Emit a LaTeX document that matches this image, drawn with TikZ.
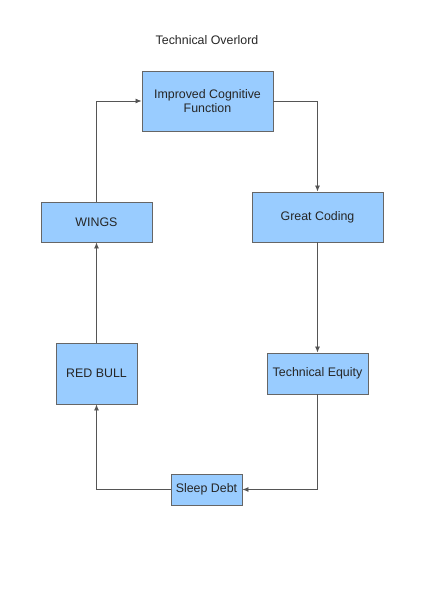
\documentclass[tikz,border=0pt]{standalone}
\usepackage{fontspec}
\setmainfont{Liberation Sans}
\usetikzlibrary{arrows.meta,positioning}
\definecolor{boxfill}{HTML}{99CCFF}
\definecolor{boxline}{HTML}{666666}
\definecolor{linkline}{HTML}{555555}
\begin{document}
\begin{tikzpicture}[x=1pt,y=-1pt,
  box/.style={draw=boxline, fill=boxfill, line width=0.9pt, inner sep=0pt, align=center,
    font=\fontsize{12.4}{14.5}\selectfont, text=black!85},
  link/.style={draw=linkline, line width=0.8pt, -{Latex[length=6pt,width=5pt]}}]
\useasboundingbox (0,0) rectangle (424,600);
\node[font=\fontsize{12.4}{14.5}\selectfont, text=black!85] (title) at (207,40) {Technical Overlord};
\node[box, minimum width=131pt, minimum height=60pt] (icf) at (207.5,101) {Improved Cognitive\\Function};
\node[box, minimum width=111pt, minimum height=40pt] (wings) at (96.5,222) {WINGS};
\node[box, minimum width=131pt, minimum height=50pt] (gc) at (317.5,217) {Great Coding};
\node[box, minimum width=81pt, minimum height=61pt] (rb) at (96.5,373.5) {RED BULL};
\node[box, minimum width=101pt, minimum height=41pt] (te) at (317.5,373.5) {Technical Equity};
\node[box, minimum width=71pt, minimum height=31pt] (sd) at (206.5,489.5) {Sleep Debt};
\draw[link] (icf.east) -| (gc.north);
\draw[link] (gc.south) -- (te.north);
\draw[link] (te.south) |- (sd.east);
\draw[link] (sd.west) -| (rb.south);
\draw[link] (rb.north) -- (wings.south);
\draw[link] (wings.north) |- (icf.west);
\end{tikzpicture}
\end{document}
